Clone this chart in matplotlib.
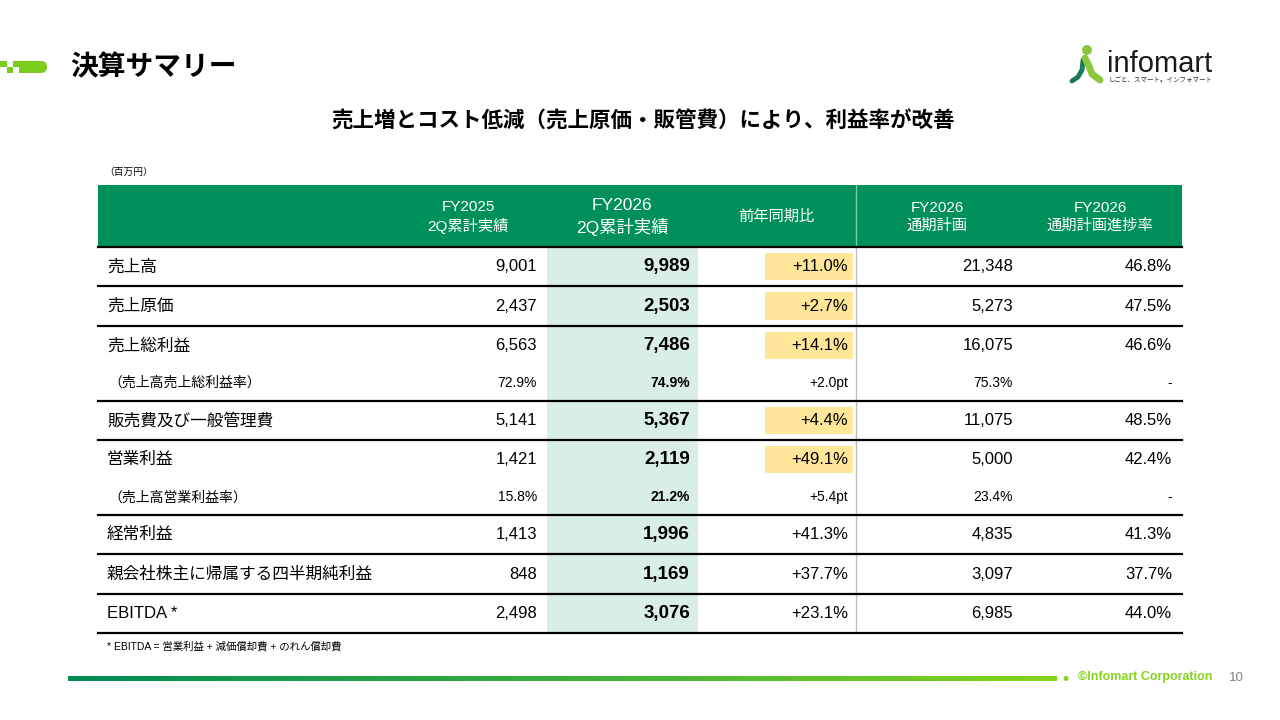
import matplotlib
matplotlib.use("Agg")
import matplotlib.pyplot as plt
import numpy as np
from matplotlib.patches import Rectangle, FancyBboxPatch, Circle
from matplotlib.colors import LinearSegmentedColormap

plt.rcParams['font.family'] = ['Liberation Sans', 'Noto Sans CJK JP', 'DejaVu Sans']

# ---- data ----
row_labels = ["売上高", "売上原価", "売上総利益", "（売上高売上総利益率）", "販売費及び一般管理費",
              "営業利益", "（売上高営業利益率）", "経常利益", "親会社株主に帰属する四半期純利益", "EBITDA *"]
fy2025 = ["9,001", "2,437", "6,563", "72.9%", "5,141", "1,421", "15.8%", "1,413", "848", "2,498"]
fy2026 = ["9,989", "2,503", "7,486", "74.9%", "5,367", "2,119", "21.2%", "1,996", "1,169", "3,076"]
yoy = ["+11.0%", "+2.7%", "+14.1%", "+2.0pt", "+4.4%", "+49.1%", "+5.4pt", "+41.3%", "+37.7%", "+23.1%"]
plan = ["21,348", "5,273", "16,075", "75.3%", "11,075", "5,000", "23.4%", "4,835", "3,097", "6,985"]
progress = ["46.8%", "47.5%", "46.6%", "-", "48.5%", "42.4%", "-", "41.3%", "37.7%", "44.0%"]
is_sub = [False, False, False, True, False, False, True, False, False, False]
yoy_highlight = [True, True, True, False, True, True, False, False, False, False]
headers = ["FY2025\n2Q累計実績", "FY2026\n2Q累計実績", "前年同期比", "FY2026\n通期計画", "FY2026\n通期計画進捗率"]

GREEN = "#00915a"
LIGHT = "#d9eee6"
YELLOW = "#ffe699"
LIME = "#7acc1f"

fig = plt.figure(figsize=(12.8, 7.2), dpi=100)
ax = fig.add_axes([0, 0, 1, 1])
ax.set_xlim(0, 1280)
ax.set_ylim(720, 0)
ax.axis('off')

# left decoration
ax.add_patch(Rectangle((0, 61), 7, 6, color=LIME, lw=0))
ax.add_patch(Rectangle((7, 67), 6, 6, color=LIME, lw=0))
ax.add_patch(Rectangle((13, 61), 6, 6, color=LIME, lw=0))
ax.add_patch(Rectangle((19, 61), 10, 12, color=LIME, lw=0))
ax.add_patch(FancyBboxPatch((22, 61), 25, 12, boxstyle="round,pad=0,rounding_size=6", color=LIME, lw=0))

ax.text(70, 68, "決算サマリー", fontsize=20, fontweight='bold', va='center', ha='left')

# logo
ax.add_patch(Circle((1087, 50), 5, color="#8cc63f", lw=0))
ax.plot([1083, 1082, 1078, 1072], [60, 70, 77, 81], color="#1a7a5a", lw=3.5, solid_capstyle='round')
ax.plot([1085, 1089, 1092, 1100], [58, 66, 74, 80], color="#8cc63f", lw=5, solid_capstyle='round')
ax.text(1107, 72, "infomart", fontsize=21, color="#1a1a1a", va='baseline', ha='left')
ax.text(1108, 81, "しごと、スマート。インフォマート", fontsize=4.7, color="#333333", va='center', ha='left')

ax.text(643, 122, "売上増とコスト低減（売上原価・販管費）により、利益率が改善",
        fontsize=15.5, fontweight='bold', ha='center', va='center')
ax.text(104, 172, "（百万円）", fontsize=7, ha='left', va='center')

# table geometry
left, right = 98, 1182
head_top, head_bot = 185, 247
main_h, sub_h = 39.4, 35.5
col_right = [537, 690, 848, 1013, 1172]
head_center = [468, 622, 776, 937, 1100]

ax.add_patch(Rectangle((left, head_top), right - left, head_bot - head_top, color=GREEN, lw=0))
for i, h in enumerate(headers):
    fs = 12.5 if i == 1 else 11
    ax.text(head_center[i], (head_top + head_bot) / 2 + 1, h, fontsize=fs, color='white',
            ha='center', va='center', linespacing=1.3)

# row positions
tops = []
y = head_bot
for s in is_sub:
    tops.append(y)
    y += sub_h if s else main_h
table_bot = y

ax.add_patch(Rectangle((547, head_bot), 151, table_bot - head_bot, color=LIGHT, lw=0))
ax.plot([856, 856], [head_top, head_bot], color="#7fc8a6", lw=1)
ax.plot([856, 856], [head_bot, table_bot], color="#bfbfbf", lw=1)

for i, lab in enumerate(row_labels):
    top = tops[i]
    h = sub_h if is_sub[i] else main_h
    cy = top + h / 2
    vals = [fy2025[i], fy2026[i], yoy[i], plan[i], progress[i]]
    if yoy_highlight[i]:
        ax.add_patch(Rectangle((765, top + 6), 88, h - 12, color=YELLOW, lw=0))
    if is_sub[i]:
        ax.text(108, cy, lab, fontsize=10, ha='left', va='center')
        for j, v in enumerate(vals):
            ax.text(col_right[j], cy, v, fontsize=10, ha='right', va='center',
                    fontweight='bold' if j == 1 else 'normal')
    else:
        ax.text(107, cy, lab, fontsize=12, ha='left', va='center')
        for j, v in enumerate(vals):
            ax.text(col_right[j], cy, v, fontsize=13.5 if j == 1 else 12, ha='right', va='center',
                    fontweight='bold' if j == 1 else 'normal')
        ax.plot([left, right], [top, top], color='black', lw=1.6)
ax.plot([left, right], [table_bot, table_bot], color='black', lw=1.6)

ax.text(107, 646, "* EBITDA = 営業利益 + 減価償却費 + のれん償却費", fontsize=7.5, ha='left', va='center')

# footer gradient bar
cmap = LinearSegmentedColormap.from_list("g", ["#008c55", "#3aae3c", "#86d41c"])
grad = np.linspace(0, 1, 256).reshape(1, -1)
ax.imshow(grad, aspect='auto', cmap=cmap, extent=(68, 1057, 681, 676), zorder=2)
ax.add_patch(Circle((1066, 678.5), 2.5, color="#86d41c", lw=0))
ax.text(1078, 677, "©Infomart Corporation", fontsize=9, color="#86d41c", fontweight='bold',
        ha='left', va='center')
ax.text(1236, 678, "10", fontsize=9.5, color="#808080", ha='center', va='center')
ax.set_xlim(0, 1280)
ax.set_ylim(720, 0)

fig.savefig("out.png", dpi=100)
